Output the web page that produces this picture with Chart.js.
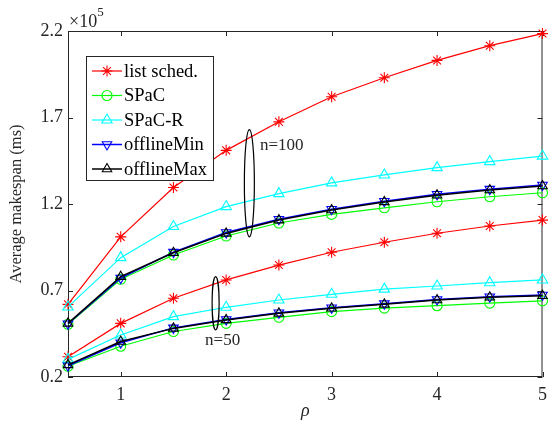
<!DOCTYPE html>
<html>
<head>
<meta charset="utf-8">
<script src="https://cdn.jsdelivr.net/npm/chart.js@4.4.1/dist/chart.umd.min.js"></script>
<style>
  html, body { margin: 0; padding: 0; background: #fff; }
  #wrap { width: 554px; height: 426px; }
</style>
</head>
<body>
<div id="wrap"><canvas id="myChart" width="554" height="426"></canvas></div>
<script>
// rho values
var rho = [0.5, 1, 1.5, 2, 2.5, 3, 3.5, 4, 4.5, 5];

// average makespan, in units of 1e5 ms, n=100
var listSched100 = [0.62, 1.01, 1.295, 1.51, 1.675, 1.82, 1.93, 2.03, 2.115, 2.185];
var spac100      = [0.505, 0.765, 0.905, 1.015, 1.09, 1.14, 1.178, 1.213, 1.242, 1.265];
var spacR100     = [0.605, 0.89, 1.07, 1.185, 1.26, 1.322, 1.368, 1.41, 1.445, 1.477];
var offMin100    = [0.508, 0.772, 0.922, 1.035, 1.112, 1.17, 1.216, 1.256, 1.286, 1.31];
var offMax100    = [0.51, 0.78, 0.918, 1.03, 1.107, 1.165, 1.212, 1.251, 1.281, 1.304];

// n=50
var listSched50 = [0.317, 0.51, 0.655, 0.761, 0.847, 0.921, 0.979, 1.031, 1.073, 1.107];
var spac50      = [0.262, 0.378, 0.463, 0.51, 0.545, 0.578, 0.598, 0.612, 0.627, 0.64];
var spacR50     = [0.302, 0.443, 0.549, 0.603, 0.645, 0.678, 0.708, 0.726, 0.745, 0.761];
var offMin50    = [0.265, 0.398, 0.484, 0.532, 0.571, 0.6, 0.624, 0.648, 0.664, 0.674];
var offMax50    = [0.27, 0.405, 0.481, 0.53, 0.568, 0.597, 0.62, 0.645, 0.661, 0.67];

var methodNames = ["list sched.", "SPaC", "SPaC-R", "offlineMin", "offlineMax"];
var xTicks = [1, 2, 3, 4, 5];
var yTicks = [0.2, 0.7, 1.2, 1.7, 2.2];

// group annotations (data units)
var groups = [
  { label: "n=100", x: 2.22, y: 1.32, ry: 0.31, rxPx: 5, tx: 2.32, ty: 1.54 },
  { label: "n=50",  x: 1.9,  y: 0.626, ry: 0.154, rxPx: 3.5, tx: 1.8, ty: 0.41 }
];

var styles = [
  { color: "#ff0000", pointStyle: "star", rotation: 0, radius: 5.5, width: 1.2 },
  { color: "#00ff00", pointStyle: "circle", rotation: 0, radius: 5, width: 1.2 },
  { color: "#00ffff", pointStyle: "triangle", rotation: 0, radius: 6, width: 1.2 },
  { color: "#0000ff", pointStyle: "triangle", rotation: 180, radius: 5.5, width: 1.5 },
  { color: "#000000", pointStyle: "triangle", rotation: 0, radius: 5.5, width: 1.5 }
];

var series100 = [listSched100, spac100, spacR100, offMin100, offMax100];
var series50 = [listSched50, spac50, spacR50, offMin50, offMax50];

function makeSet(values, m, tag) {
  var s = styles[m];
  return {
    label: methodNames[m],
    group: tag,
    data: rho.map(function (x, i) { return { x: x, y: values[i] }; }),
    borderColor: s.color,
    backgroundColor: "transparent",
    borderWidth: s.width,
    pointStyle: s.pointStyle,
    pointRotation: s.rotation,
    pointRadius: s.radius,
    pointBorderColor: s.color,
    pointBackgroundColor: "transparent",
    pointBorderWidth: 1.1,
    tension: 0,
    fill: false,
    clip: false,
    order: 5 - m
  };
}

var datasets = [];
for (var m = 0; m < 5; m++) datasets.push(makeSet(series100[m], m, 100));
for (var m = 0; m < 5; m++) datasets.push(makeSet(series50[m], m, 50));

var serif = "'Liberation Serif', 'Times New Roman', serif";
var axisColor = "#262626";

// frame with inward ticks, MATLAB style
var framePlugin = {
  id: "frame",
  beforeDatasetsDraw: function (chart) {
    var ctx = chart.ctx, a = chart.chartArea;
    var xs = chart.scales.x, ys = chart.scales.y;
    ctx.save();
    ctx.strokeStyle = axisColor;
    ctx.lineWidth = 1;
    ctx.strokeRect(a.left + 0.5, a.top + 0.5, a.right - a.left - 1, a.bottom - a.top - 1);
    var t = 5;
    xTicks.forEach(function (v) {
      var px = Math.round(xs.getPixelForValue(v)) + 0.5;
      ctx.beginPath();
      ctx.moveTo(px, a.bottom); ctx.lineTo(px, a.bottom - t);
      ctx.moveTo(px, a.top); ctx.lineTo(px, a.top + t);
      ctx.stroke();
    });
    yTicks.forEach(function (v) {
      var py = Math.round(ys.getPixelForValue(v)) + 0.5;
      ctx.beginPath();
      ctx.moveTo(a.left, py); ctx.lineTo(a.left + t, py);
      ctx.moveTo(a.right, py); ctx.lineTo(a.right - t, py);
      ctx.stroke();
    });
    // exponent label
    ctx.fillStyle = axisColor;
    ctx.textBaseline = "alphabetic";
    ctx.textAlign = "left";
    ctx.font = "18px " + serif;
    ctx.fillText("\u00d710", a.left + 1, a.top - 4);
    var w = ctx.measureText("\u00d710").width;
    ctx.font = "13px " + serif;
    ctx.fillText("5", a.left + 1 + w, a.top - 15);
    ctx.restore();
  }
};

// ellipses and n= labels
var groupPlugin = {
  id: "groups",
  afterDatasetsDraw: function (chart) {
    var ctx = chart.ctx;
    var xs = chart.scales.x, ys = chart.scales.y;
    ctx.save();
    ctx.strokeStyle = "#000";
    ctx.lineWidth = 1.2;
    ctx.fillStyle = "#262626";
    ctx.font = "17px " + serif;
    ctx.textBaseline = "middle";
    ctx.textAlign = "left";
    groups.forEach(function (g) {
      var cx = xs.getPixelForValue(g.x);
      var cy = ys.getPixelForValue(g.y);
      var ry = Math.abs(ys.getPixelForValue(g.y + g.ry) - cy);
      ctx.beginPath();
      ctx.ellipse(cx, cy, g.rxPx, ry, 0, 0, Math.PI * 2);
      ctx.stroke();
      ctx.fillText(g.label, xs.getPixelForValue(g.tx), ys.getPixelForValue(g.ty));
    });
    ctx.restore();
  }
};

// legend box at upper left of the axes
var legendPlugin = {
  id: "boxLegend",
  afterDraw: function (chart) {
    var ctx = chart.ctx, a = chart.chartArea;
    var left = a.left + 18, top = a.top + 25, w = 127, h = 124, rowH = 24.5;
    ctx.save();
    ctx.fillStyle = "#fff";
    ctx.fillRect(left, top, w, h);
    ctx.strokeStyle = "#262626";
    ctx.lineWidth = 1;
    ctx.strokeRect(left + 0.5, top + 0.5, w, h);
    ctx.font = "18.5px " + serif;
    ctx.textBaseline = "middle";
    ctx.textAlign = "left";
    for (var i = 0; i < 5; i++) {
      var s = styles[i];
      var y = top + 15 + i * rowH;
      ctx.strokeStyle = s.color;
      ctx.lineWidth = s.width;
      ctx.beginPath();
      ctx.moveTo(left + 6, y); ctx.lineTo(left + 36, y);
      ctx.stroke();
      ctx.strokeStyle = s.color;
      ctx.fillStyle = "transparent";
      ctx.lineWidth = 1.1;
      Chart.helpers.drawPoint(ctx, {
        pointStyle: s.pointStyle, radius: s.radius, rotation: s.rotation, borderWidth: 1.1
      }, left + 21, y);
      ctx.fillStyle = "#000";
      ctx.fillText(methodNames[i], left + 38, y + 1);
    }
    ctx.restore();
  }
};

new Chart("myChart", {
  type: "line",
  data: { datasets: datasets },
  options: {
    responsive: false,
    animation: false,
    layout: { padding: { left: 0, right: 10, top: 31, bottom: 0 } },
    plugins: {
      legend: { display: false },
      tooltip: { enabled: false }
    },
    scales: {
      x: {
        type: "linear",
        min: 0.5,
        max: 5,
        afterBuildTicks: function (scale) {
          scale.ticks = xTicks.map(function (v) { return { value: v }; });
        },
        afterFit: function (scale) { scale.height = 49; },
        grid: { display: false, drawTicks: false },
        border: { display: false },
        ticks: {
          color: axisColor,
          padding: 7,
          font: { family: serif, size: 18 },
          callback: function (v) { return String(v); }
        },
        title: {
          display: true,
          text: "\u03c1",
          color: axisColor,
          padding: { top: 0, bottom: 4 },
          font: { family: serif, size: 18, style: "italic" }
        }
      },
      y: {
        type: "linear",
        min: 0.2,
        max: 2.2,
        afterBuildTicks: function (scale) {
          scale.ticks = yTicks.map(function (v) { return { value: v }; });
        },
        afterFit: function (scale) { scale.width = 68; },
        grid: { display: false, drawTicks: false },
        border: { display: false },
        ticks: {
          color: axisColor,
          padding: 5,
          font: { family: serif, size: 18 },
          callback: function (v) { return Number(v).toFixed(1); }
        },
        title: {
          display: true,
          text: "Average makespan (ms)",
          color: axisColor,
          padding: { top: 7, bottom: 0 },
          font: { family: serif, size: 16.5 }
        }
      }
    }
  },
  plugins: [groupPlugin, framePlugin, legendPlugin]
});
</script>
</body>
</html>
